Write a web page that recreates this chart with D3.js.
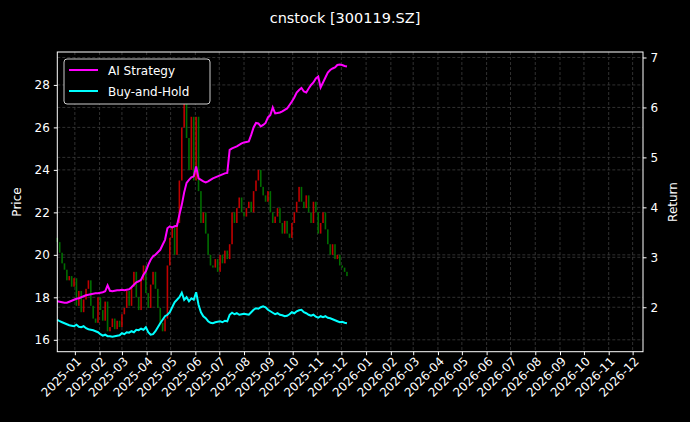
<!DOCTYPE html>
<html>
<head>
<meta charset="utf-8">
<script src="https://cdn.jsdelivr.net/npm/d3@7"></script>
<style>
  body { margin: 0; background: #000; }
  text { font-family: "DejaVu Sans", sans-serif; fill: #fff; }
</style>
</head>
<body>
<svg id="chart" width="690" height="422"></svg>
<script>
// sample every 3 calendar days starting 2024-12-10
const startDate = new Date(2024, 11, 10);
const stepDays = 3;

const closes = [20.6, 20.1, 19.6, 19.3, 18.8, 19.0, 18.5, 18.9, 17.6, 18.3,
  17.3, 17.9, 18.4, 18.8, 17.6, 17.0, 16.8, 18.0, 17.4, 16.9,
  17.8, 16.4, 16.6, 17.0, 16.5, 16.9, 16.6, 17.2, 17.5, 18.3,
  17.6, 18.5, 19.2, 18.0, 17.4, 18.8, 19.5, 18.2, 17.5, 18.6,
  19.2, 18.4, 17.5, 16.8, 16.4, 17.0, 19.5, 20.8, 21.3, 20.0,
  21.5, 23.5, 26.0, 27.5, 25.5, 24.0, 26.5, 23.5, 26.5, 23.0,
  21.5, 22.0, 21.0, 20.0, 19.5, 19.4, 19.8, 19.2, 20.0, 19.6,
  20.2, 19.8, 20.5, 22.0, 21.5, 22.2, 22.7, 22.0, 21.8, 22.2,
  22.5, 22.0, 23.0, 23.5, 24.0, 23.2, 22.8, 22.5, 23.0, 22.0,
  21.5, 21.8, 22.2, 21.5, 21.0, 21.6, 21.0, 20.8, 21.5, 22.0,
  22.5, 23.2, 22.5, 22.2, 22.8, 22.0, 21.5, 22.5, 22.0, 21.0,
  21.5, 22.0, 21.2, 20.5, 20.0, 20.5, 19.8, 20.0, 19.5, 19.4,
  19.2, 19.0];
const firstOpen = 20.8;

const aiReturn = [2.12, 2.11, 2.10, 2.09, 2.09,
  2.11, 2.13, 2.15, 2.17, 2.18, 2.20, 2.22, 2.24, 2.25,
  2.26, 2.27, 2.28, 2.28, 2.29, 2.30, 2.32, 2.44,
  2.33, 2.32, 2.33, 2.34, 2.34, 2.35, 2.34, 2.35, 2.36,
  2.40, 2.45, 2.50, 2.52, 2.55,
  2.65, 2.72, 2.85, 2.95, 3.02,
  3.05, 3.10, 3.15, 3.25, 3.35,
  3.58, 3.62, 3.60, 3.62, 3.63,
  3.85, 4.05, 4.30, 4.49,
  4.55, 4.60, 4.62,
  4.82, 4.58, 4.55, 4.52, 4.50, 4.52,
  4.55, 4.58, 4.60, 4.62, 4.64, 4.66, 4.68, 4.69,
  5.15, 5.18, 5.20, 5.22, 5.25, 5.28, 5.30, 5.31, 5.32,
  5.45, 5.60, 5.69,
  5.68, 5.62, 5.65, 5.69,
  5.80, 5.85, 6.00,
  5.88, 5.89, 5.90, 5.92, 5.95, 5.98,
  6.05, 6.12, 6.20, 6.30, 6.35, 6.39,
  6.32, 6.30,
  6.38, 6.45, 6.50, 6.58, 6.62,
  6.40, 6.50, 6.60, 6.70, 6.75,
  6.78, 6.80, 6.85, 6.86, 6.85, 6.83, 6.82];

const holdReturn = [1.75, 1.72, 1.70, 1.68, 1.66,
  1.64, 1.63, 1.62, 1.65, 1.61, 1.60, 1.62, 1.58, 1.56,
  1.55, 1.54, 1.52, 1.50, 1.46, 1.43, 1.45, 1.42,
  1.42, 1.41, 1.42, 1.43, 1.44, 1.48, 1.46, 1.50, 1.49,
  1.52, 1.50, 1.55, 1.54, 1.57,
  1.55, 1.60, 1.50, 1.45, 1.46,
  1.52, 1.60, 1.68, 1.75, 1.82,
  1.85, 1.90, 2.00, 2.10, 2.15,
  2.20, 2.29, 2.15, 2.20,
  2.12, 2.18, 2.15,
  2.30, 2.05, 1.90, 1.82, 1.78, 1.72,
  1.69, 1.68, 1.70, 1.71, 1.72, 1.70, 1.73, 1.72,
  1.85, 1.89, 1.86, 1.88, 1.85, 1.86, 1.87, 1.86, 1.85,
  1.90, 1.95, 1.98,
  1.97, 2.00, 2.02, 2.00,
  1.95, 1.92, 1.89,
  1.86, 1.88, 1.85, 1.84, 1.82, 1.83,
  1.86, 1.90, 1.88, 1.92, 1.94, 1.95,
  1.90, 1.88,
  1.85, 1.83, 1.85, 1.81, 1.79,
  1.82, 1.80, 1.82, 1.79, 1.78,
  1.76, 1.74, 1.72, 1.70, 1.71, 1.69, 1.68];

const priceTicks = [16, 18, 20, 22, 24, 26, 28];
const returnTicks = [2, 3, 4, 5, 6, 7];

const data = closes.map((c, i) => {
    const date = d3.timeDay.offset(startDate, i * stepDays);
    const open = i === 0 ? firstOpen : closes[i - 1];
    return { date, open, close: c, ai: aiReturn[i], hold: holdReturn[i] };
});

const plotLeft = 57.3, plotRight = 643, plotTop = 52, plotBottom = 351.7;
const svg = d3.select("#chart");
svg.append("rect").attr("width", 690).attr("height", 422).attr("fill", "#000");

const x = d3.scaleTime()
    .domain([startDate, new Date(2026, 11, 14)])
    .range([plotLeft, plotRight]);
const yPrice = d3.scaleLinear().domain([15.44, 29.55]).range([plotBottom, plotTop]);
const yRet = d3.scaleLinear().domain([1.11, 7.11]).range([plotBottom, plotTop]);

const monthTicks = d3.timeMonth.range(new Date(2025, 0, 1), new Date(2026, 11, 2));

// grid
const grid = svg.append("g").attr("stroke", "#3c3c3c").attr("stroke-width", 0.8)
    .attr("stroke-dasharray", "3,2");
monthTicks.forEach(d => grid.append("line")
    .attr("x1", x(d)).attr("x2", x(d)).attr("y1", plotTop).attr("y2", plotBottom));
priceTicks.forEach(v => grid.append("line")
    .attr("x1", plotLeft).attr("x2", plotRight).attr("y1", yPrice(v)).attr("y2", yPrice(v)));
returnTicks.forEach(v => grid.append("line")
    .attr("x1", plotLeft).attr("x2", plotRight).attr("y1", yRet(v)).attr("y2", yRet(v)));

// candles
const candleW = 1.6;
svg.append("g").selectAll("rect").data(data).join("rect")
    .attr("x", d => x(d.date) - candleW / 2)
    .attr("width", candleW)
    .attr("y", d => yPrice(Math.max(d.open, d.close)))
    .attr("height", d => Math.max(1, Math.abs(yPrice(d.open) - yPrice(d.close))))
    .attr("fill", d => d.close >= d.open ? "#e00000" : "#008000")
    .attr("opacity", 0.85);

// return lines
const lineAi = d3.line().x(d => x(d.date)).y(d => yRet(d.ai));
const lineHold = d3.line().x(d => x(d.date)).y(d => yRet(d.hold));
svg.append("path").datum(data).attr("d", lineAi)
    .attr("fill", "none").attr("stroke", "#ff00ff").attr("stroke-width", 2);
svg.append("path").datum(data).attr("d", lineHold)
    .attr("fill", "none").attr("stroke", "#00ffff").attr("stroke-width", 2);

// frame
svg.append("rect").attr("x", plotLeft).attr("y", plotTop)
    .attr("width", plotRight - plotLeft).attr("height", plotBottom - plotTop)
    .attr("fill", "none").attr("stroke", "#fff").attr("stroke-width", 1);

// axes
const styleAxis = g => {
    g.select(".domain").remove();
    g.selectAll(".tick line").attr("stroke", "#fff");
    g.selectAll(".tick text").attr("fill", "#fff")
        .style("font-family", "DejaVu Sans").style("font-size", "12px");
};
svg.append("g").attr("transform", `translate(${plotLeft},0)`)
    .call(d3.axisLeft(yPrice).tickValues(priceTicks).tickSize(3.5).tickPadding(4))
    .call(styleAxis);
svg.append("g").attr("transform", `translate(${plotRight},0)`)
    .call(d3.axisRight(yRet).tickValues(returnTicks).tickFormat(d3.format("d"))
        .tickSize(3.5).tickPadding(4))
    .call(styleAxis);
svg.append("g").attr("transform", `translate(0,${plotBottom})`)
    .call(d3.axisBottom(x).tickValues(monthTicks).tickFormat(d3.timeFormat("%Y-%m"))
        .tickSize(3.5).tickPadding(2))
    .call(styleAxis)
    .selectAll(".tick text")
    .attr("text-anchor", "end")
    .attr("dy", "0.3em")
    .attr("transform", "translate(0,4) rotate(-45)");

// labels
svg.append("text").attr("x", 345).attr("y", 23).attr("text-anchor", "middle")
    .style("font-size", "14.5px").text("cnstock [300119.SZ]");
svg.append("text").attr("transform", "translate(21,202) rotate(-90)")
    .attr("text-anchor", "middle").style("font-size", "12px").text("Price");
svg.append("text").attr("transform", "translate(677,202) rotate(-90)")
    .attr("text-anchor", "middle").style("font-size", "12px").text("Return");

// legend
const legend = svg.append("g");
legend.append("rect").attr("x", 64).attr("y", 59).attr("width", 146).attr("height", 45)
    .attr("rx", 3).attr("fill", "#000").attr("stroke", "#ccc").attr("stroke-width", 1);
[["AI Strategy", "#ff00ff"], ["Buy-and-Hold", "#00ffff"]].forEach(([name, color], i) => {
    const yy = 70 + i * 21;
    legend.append("line").attr("x1", 69).attr("x2", 98).attr("y1", yy).attr("y2", yy)
        .attr("stroke", color).attr("stroke-width", 2);
    legend.append("text").attr("x", 108).attr("y", yy + 4.5).style("font-size", "12px").text(name);
});
</script>
</body>
</html>
